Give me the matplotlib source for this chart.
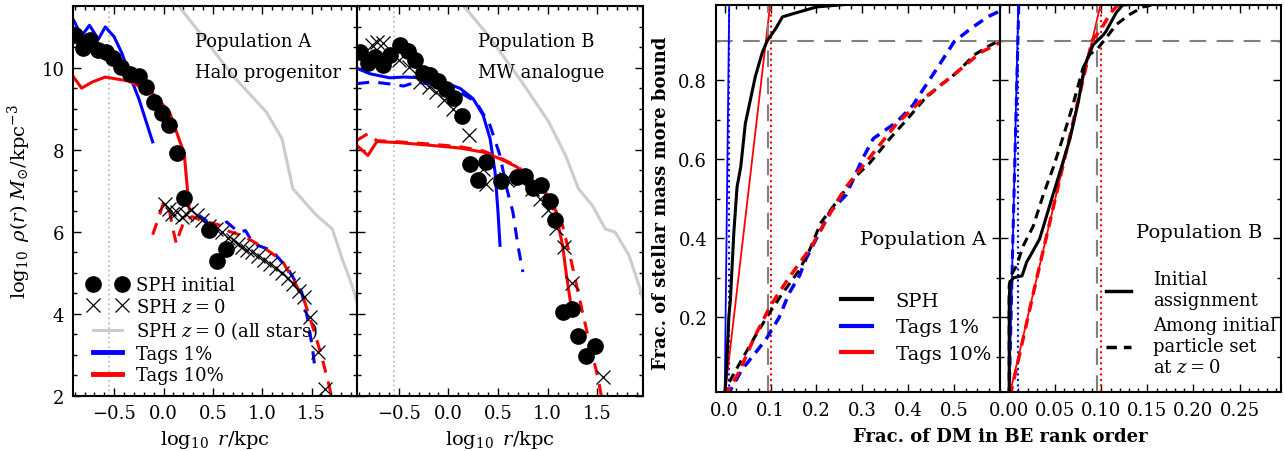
import numpy as np
import matplotlib
matplotlib.use("Agg")
import matplotlib.pyplot as plt
from matplotlib.ticker import MultipleLocator, AutoMinorLocator
from matplotlib.lines import Line2D

plt.rcParams['font.family'] = ['DejaVu Serif']
plt.rcParams['mathtext.fontset'] = 'dejavuserif'
plt.rcParams['font.size'] = 13

# ---- Population A (halo progenitor), density profiles
a_sph_init_x = [-0.90, -0.82, -0.74, -0.66, -0.58, -0.51, -0.43, -0.34, -0.25, -0.18, -0.10, -0.02, 0.06, 0.14, 0.21, 0.46, 0.54, 0.63]
a_sph_init_y = [10.79, 10.48, 10.67, 10.42, 10.38, 10.24, 10.02, 9.85, 9.80, 9.53, 9.16, 8.90, 8.59, 7.93, 6.83, 6.05, 5.30, 5.57]
a_sph_z0_x = [0.01, 0.06, 0.09, 0.14, 0.19, 0.23, 0.28, 0.34, 0.39, 0.46, 0.53, 0.59, 0.65, 0.70, 0.75, 0.80,
              0.85, 0.90, 0.96, 1.02, 1.08, 1.14, 1.20, 1.26, 1.31, 1.37, 1.42, 1.48, 1.56, 1.64]
a_sph_z0_y = [6.68, 6.56, 6.44, 6.48, 6.36, 6.44, 6.52, 6.40, 6.28, 6.15, 6.07, 5.99, 5.85, 5.80, 5.71, 5.63,
              5.56, 5.50, 5.42, 5.32, 5.22, 5.12, 5.00, 4.87, 4.73, 4.55, 4.40, 3.92, 3.07, 2.17]
a_all_x = [0.12, 0.36, 0.70, 1.04, 1.20, 1.31, 1.55, 1.71, 1.81, 1.91, 1.97]
a_all_y = [11.6, 10.87, 9.81, 8.92, 8.27, 7.05, 6.40, 6.07, 5.34, 4.69, 4.22]
a_tag1_x = [-0.91, -0.83, -0.75, -0.66, -0.59, -0.50, -0.42, -0.33, -0.25, -0.11]
a_tag1_y = [11.15, 10.77, 11.03, 10.69, 10.99, 10.75, 10.34, 9.73, 9.24, 8.19]
a_tag10_x = [-0.92, -0.83, -0.72, -0.59, -0.35, -0.11, 0.06, 0.21, 0.26]
a_tag10_y = [9.80, 9.50, 9.65, 9.77, 9.67, 9.37, 8.92, 7.90, 6.56]
a_tag1_z0_x = [0.36, 0.43, 0.51, 0.59, 0.64, 0.76, 0.83, 0.91, 1.10, 1.26, 1.40, 1.46, 1.51, 1.53]
a_tag1_z0_y = [6.40, 6.28, 5.91, 6.15, 6.24, 5.99, 6.03, 5.71, 5.54, 5.10, 4.53, 3.88, 3.15, 2.74]
a_tag10_z0_x = [-0.11, -0.06, 0.0, 0.06, 0.09, 0.13, 0.16, 0.21, 0.29, 0.39, 0.59, 0.64, 0.79, 0.89, 1.03,
                1.20, 1.33, 1.43, 1.53, 1.60, 1.67, 1.70]
a_tag10_z0_y = [5.93, 6.27, 6.71, 6.51, 6.12, 5.71, 5.95, 6.27, 6.37, 6.27, 6.15, 6.03, 5.91, 5.79, 5.59,
                5.30, 4.77, 4.29, 3.55, 2.98, 2.33, 2.0]

# ---- Population B (MW analogue), density profiles
b_sph_init_x = [-0.89, -0.81, -0.74, -0.66, -0.59, -0.49, -0.41, -0.34, -0.26, -0.18, -0.10, -0.02, 0.06, 0.14,
                0.22, 0.30, 0.38, 0.53, 0.69, 0.77, 0.85, 0.93, 1.02, 1.07, 1.15, 1.24, 1.31, 1.39, 1.48]
b_sph_init_y = [10.38, 10.10, 10.26, 10.06, 10.30, 10.54, 10.40, 10.18, 9.88, 9.81, 9.67, 9.49, 9.26, 8.82,
                7.66, 7.25, 7.70, 7.23, 7.33, 7.37, 7.07, 7.13, 6.76, 6.28, 4.04, 4.12, 3.46, 2.97, 3.21]
b_sph_z0_x = [-0.77, -0.72, -0.66, -0.50, -0.40, -0.29, -0.20, -0.12, -0.04, 0.05, 0.21, 0.35, 0.38, 0.58,
              0.72, 0.84, 0.92, 1.00, 1.08, 1.16, 1.24, 1.56]
b_sph_z0_y = [10.54, 10.63, 10.59, 10.18, 10.02, 9.65, 9.53, 9.41, 9.20, 9.00, 8.35, 7.54, 7.17, 7.29,
              7.25, 7.05, 6.80, 6.52, 6.09, 5.63, 4.76, 2.46]
b_all_x = [0.12, 0.40, 0.74, 1.01, 1.18, 1.31, 1.45, 1.58, 1.68, 1.82, 1.92, 1.97]
b_all_y = [11.6, 10.79, 9.65, 8.68, 7.86, 7.05, 6.64, 6.07, 5.99, 5.42, 4.69, 4.3]
b_tag1_x = [-0.92, -0.79, -0.69, -0.59, -0.45, -0.25, -0.05, 0.12, 0.25, 0.35, 0.42, 0.47, 0.50, 0.52]
b_tag1_y = [9.98, 9.85, 9.80, 9.75, 9.77, 9.75, 9.65, 9.49, 9.24, 8.84, 8.27, 7.46, 6.48, 5.67]
b_tag1_z0_x = [-0.92, -0.76, -0.62, -0.45, -0.32, -0.12, 0.08, 0.28, 0.42, 0.52, 0.58, 0.65, 0.70, 0.75]
b_tag1_z0_y = [9.61, 9.65, 9.61, 9.55, 9.65, 9.57, 9.45, 9.16, 8.59, 7.86, 7.13, 6.48, 5.67, 5.02]
b_tag10_x = [-0.92, -0.81, -0.72, -0.49, -0.15, 0.12, 0.35, 0.52, 0.69, 0.85, 0.99, 1.09, 1.10, 1.15, 1.19, 1.24]
b_tag10_y = [8.10, 7.86, 8.20, 8.17, 8.10, 8.04, 7.94, 7.78, 7.58, 7.25, 6.89, 6.48, 6.24, 5.67, 4.93, 4.12]
b_tag10_z0_x = [-0.92, -0.81, -0.72, -0.49, -0.15, 0.12, 0.35, 0.52, 0.69, 0.85, 1.02, 1.15, 1.24, 1.32, 1.42,
                1.51, 1.54]
b_tag10_z0_y = [8.23, 8.39, 8.22, 8.19, 8.13, 8.07, 7.97, 7.80, 7.60, 7.27, 6.72, 6.15, 5.26, 4.37, 3.31,
                2.41, 2.0]

r_soft = -0.55

# ---- cumulative stellar mass vs DM binding-energy rank
pa_sph_x = [0.0, 0.003, 0.006, 0.009, 0.0125, 0.02, 0.027, 0.035, 0.045, 0.056, 0.067, 0.082, 0.093, 0.111,
            0.126, 0.155, 0.20, 0.25, 0.30, 0.60]
pa_sph_y = [0.0, 0.05, 0.12, 0.20, 0.245, 0.415, 0.53, 0.58, 0.69, 0.75, 0.81, 0.87, 0.90, 0.93,
            0.96, 0.97, 0.985, 0.99, 0.995, 1.0]
pa_sph_z0_x = [0.0, 0.005, 0.038, 0.067, 0.097, 0.126, 0.163, 0.185, 0.21, 0.243, 0.28, 0.316, 0.36, 0.397,
               0.434, 0.47, 0.507, 0.544, 0.58, 0.60]
pa_sph_z0_y = [0.0, 0.026, 0.094, 0.153, 0.21, 0.26, 0.32, 0.37, 0.44, 0.49, 0.55, 0.59, 0.652, 0.70,
               0.75, 0.787, 0.82, 0.864, 0.889, 0.90]
pa_t10_z0_x = [0.0, 0.031, 0.065, 0.10, 0.14, 0.19, 0.243, 0.265, 0.32, 0.375, 0.43, 0.485, 0.558, 0.60]
pa_t10_z0_y = [0.0, 0.06, 0.15, 0.23, 0.30, 0.38, 0.49, 0.53, 0.61, 0.69, 0.75, 0.80, 0.87, 0.895]
pa_t1_z0_x = [0.005, 0.038, 0.067, 0.09, 0.119, 0.14, 0.163, 0.177, 0.207, 0.229, 0.265, 0.30, 0.324, 0.375,
              0.41, 0.434, 0.463, 0.50, 0.536, 0.573, 0.60]
pa_t1_z0_y = [0.0, 0.068, 0.11, 0.144, 0.20, 0.26, 0.305, 0.347, 0.415, 0.466, 0.51, 0.60, 0.652, 0.694,
              0.736, 0.779, 0.83, 0.897, 0.93, 0.96, 0.975]
pb_sph_x = [0.0, 0.0, 0.001, 0.005, 0.014, 0.019, 0.024, 0.033, 0.044, 0.055, 0.066, 0.075, 0.082, 0.091,
            0.102, 0.105, 0.116, 0.123, 0.20, 0.30]
pb_sph_y = [0.0, 0.245, 0.29, 0.30, 0.305, 0.34, 0.36, 0.398, 0.483, 0.567, 0.652, 0.745, 0.838, 0.889,
            0.914, 0.923, 0.97, 0.99, 1.0, 1.0]
pb_sph_z0_x = [0.0, 0.0, 0.003, 0.008, 0.015, 0.026, 0.037, 0.048, 0.059, 0.069, 0.080, 0.087, 0.096, 0.105,
               0.116, 0.13, 0.145, 0.155, 0.30]
pb_sph_z0_y = [0.0, 0.28, 0.31, 0.33, 0.38, 0.43, 0.51, 0.58, 0.66, 0.736, 0.83, 0.864, 0.88, 0.906,
               0.94, 0.965, 0.985, 0.99, 1.0]
pb_t10_z0_x = [0.001, 0.03, 0.06, 0.09, 0.10, 0.11, 0.12]
pb_t10_z0_y = [0.0, 0.30, 0.60, 0.90, 0.93, 0.97, 0.995]
pb_t1_z0_x = [0.0, 0.004, 0.0105]
pb_t1_z0_y = [0.0, 0.40, 1.0]
tag1_x = [0.0, 0.01]
tag10_x = [0.0, 0.10]
tag_y = [0.0, 1.0]
f90_a = 0.094
f90_b = 0.0955

W, H = 1285, 452
fig = plt.figure(figsize=(W / 100, H / 100), dpi=100)


def box(x0, x1, y0, y1):
    return [x0 / W, 1 - y1 / H, (x1 - x0) / W, (y1 - y0) / H]


ax1 = fig.add_axes(box(72.7, 357, 7, 397))
ax2 = fig.add_axes(box(357, 643, 7, 397))
ax3 = fig.add_axes(box(715.5, 1000, 6, 393.3))
ax4 = fig.add_axes(box(1000, 1281, 6, 393.3))


def ticks(ax):
    ax.tick_params(which='both', direction='in', top=True, right=True, width=1)
    ax.tick_params(which='major', length=6, labelsize=13, pad=6)
    ax.tick_params(which='minor', length=3)
    for s in ax.spines.values():
        s.set_linewidth(1.5)


blue, red = '#0000ff', '#ff0000'
grey = '#cccccc'

for ax, d in [(ax1, 'A'), (ax2, 'B')]:
    ax.axvline(r_soft, color='0.75', ls=':', lw=1.3)
    if d == 'A':
        ax.plot(a_all_x, a_all_y, color=grey, lw=2.2, label='SPH $z=0$ (all stars)')
        ax.plot(a_tag1_x, a_tag1_y, color=blue, lw=2.2, label='Tags 1%')
        ax.plot(a_tag10_x, a_tag10_y, color=red, lw=2.2, label='Tags 10%')
        ax.plot(a_tag1_z0_x, a_tag1_z0_y, color=blue, lw=2.2, ls='--', dashes=(4, 3))
        ax.plot(a_tag10_z0_x, a_tag10_z0_y, color=red, lw=2.2, ls='--', dashes=(4, 3))
        ax.plot(a_sph_init_x, a_sph_init_y, 'o', color='k', ms=11, label='SPH initial')
        ax.plot(a_sph_z0_x, a_sph_z0_y, 'x', color='k', ms=10, mew=0.9, label='SPH $z=0$')
        ax.text(0.43, 0.91, 'Population A', transform=ax.transAxes, fontsize=13, va='center')
        ax.text(0.43, 0.83, 'Halo progenitor', transform=ax.transAxes, fontsize=13, va='center')
    else:
        ax.plot(b_all_x, b_all_y, color=grey, lw=2.2)
        ax.plot(b_tag1_x, b_tag1_y, color=blue, lw=2.2)
        ax.plot(b_tag1_z0_x, b_tag1_z0_y, color=blue, lw=2.2, ls='--', dashes=(4, 3))
        ax.plot(b_tag10_x, b_tag10_y, color=red, lw=2.2)
        ax.plot(b_tag10_z0_x, b_tag10_z0_y, color=red, lw=2.2, ls='--', dashes=(4, 3))
        ax.plot(b_sph_init_x, b_sph_init_y, 'o', color='k', ms=11)
        ax.plot(b_sph_z0_x, b_sph_z0_y, 'x', color='k', ms=10, mew=0.9)
        ax.text(0.423, 0.91, 'Population B', transform=ax.transAxes, fontsize=13, va='center')
        ax.text(0.423, 0.83, 'MW analogue', transform=ax.transAxes, fontsize=13, va='center')
    ax.set_xlim(-0.92, 1.96)
    ax.set_ylim(2, 11.5)
    ax.set_xticks([-0.5, 0.0, 0.5, 1.0, 1.5])
    ax.set_xticklabels(['\u22120.5', '0.0', '0.5', '1.0', '1.5'])
    ax.xaxis.set_minor_locator(MultipleLocator(0.1))
    ax.yaxis.set_major_locator(MultipleLocator(2))
    ax.yaxis.set_minor_locator(MultipleLocator(0.5))
    ax.set_xlabel(r'$\log_{10}\ r/\mathrm{kpc}$', fontsize=14, labelpad=4)
    ticks(ax)

ax1.set_ylabel(r'$\log_{10}\ \rho(r)\ M_{\odot}/\mathrm{kpc}^{-3}$', fontsize=14, labelpad=6)
ax2.tick_params(labelleft=False)

h, l = ax1.get_legend_handles_labels()
order = [l.index(k) for k in ['SPH initial', 'SPH $z=0$', 'SPH $z=0$ (all stars)', 'Tags 1%', 'Tags 10%']]
hh = [h[i] for i in order]
hh[3] = Line2D([], [], color=blue, lw=3.5)
hh[4] = Line2D([], [], color=red, lw=3.5)
ax1.legend(hh, [l[i] for i in order], loc='lower left', bbox_to_anchor=(-0.005, -0.012), frameon=False,
           numpoints=2, fontsize=13, handlelength=2.2, handletextpad=0.5, labelspacing=0.2)

gd = dict(color='0.5', lw=1.5, ls='--', dashes=(8, 5))
for ax, pop in [(ax3, 'A'), (ax4, 'B')]:
    ax.axhline(0.9, **gd)
    ax.axvline(0.01, color=blue, ls=':', lw=1.5)
    ax.axvline(0.10, color=red, ls=':', lw=1.5)
    ax.plot(tag1_x, tag_y, color=blue, lw=1.3)
    ax.plot(tag10_x, tag_y, color=red, lw=1.3)
    if pop == 'A':
        ax.axvline(f90_a, **gd)
        ax.plot(pa_sph_x, pa_sph_y, color='k', lw=2.2)
        ax.plot(pa_t1_z0_x, pa_t1_z0_y, color=blue, lw=2.5, ls='--', dashes=(3, 2))
        ax.plot(pa_sph_z0_x, pa_sph_z0_y, color='k', lw=2.2, ls='--', dashes=(3, 2))
        ax.plot(pa_t10_z0_x, pa_t10_z0_y, color=red, lw=2.5, ls='--', dashes=(3, 2))
        ax.set_xlim(-0.02, 0.6)
        ax.set_xticks([0.0, 0.1, 0.2, 0.3, 0.4, 0.5])
        ax.xaxis.set_minor_locator(MultipleLocator(0.025))
        ax.text(0.73, 0.395, 'Population A', transform=ax.transAxes, fontsize=14, ha='center', va='center')
        hs = [Line2D([], [], color=c, lw=3) for c in ['k', blue, red]]
        ax.legend(hs, ['SPH', 'Tags 1%', 'Tags 10%'], loc='lower right', bbox_to_anchor=(1.03, 0.03),
                  frameon=False, fontsize=14, handlelength=1.6, handletextpad=1.2, labelspacing=0.45)
        ax.set_yticks([0.2, 0.4, 0.6, 0.8])
    else:
        ax.axvline(f90_b, **gd)
        ax.plot(pb_t1_z0_x, pb_t1_z0_y, color=blue, lw=2.2, ls='--', dashes=(3, 2))
        ax.plot(pb_t10_z0_x, pb_t10_z0_y, color=red, lw=2.5, ls='--', dashes=(3, 2))
        ax.plot(pb_sph_x, pb_sph_y, color='k', lw=2.2)
        ax.plot(pb_sph_z0_x, pb_sph_z0_y, color='k', lw=2.2, ls='--', dashes=(3, 2))
        ax.set_xlim(-0.01, 0.295)
        ax.set_xticks([0.0, 0.05, 0.1, 0.15, 0.2, 0.25])
        ax.set_xticklabels(['0.00', '0.05', '0.10', '0.15', '0.20', '0.25'])
        ax.xaxis.set_minor_locator(AutoMinorLocator(5))
        ax.text(0.71, 0.415, 'Population B', transform=ax.transAxes, fontsize=14, ha='center', va='center')
        hs = [Line2D([], [], color='k', lw=2.5), Line2D([], [], color='k', lw=2.5, ls='--', dashes=(3, 2))]
        ax.legend(hs, ['Initial\nassignment', 'Among initial\nparticle set\nat $z=0$'], loc='lower right',
                  bbox_to_anchor=(1.04, 0.0), frameon=False, fontsize=13, handlelength=1.4,
                  handletextpad=1.2, labelspacing=0.4)
        ax.set_yticks([0.2, 0.4, 0.6, 0.8])
        ax.tick_params(labelleft=False)
    ax.set_ylim(0.01, 0.99)
    ax.yaxis.set_minor_locator(MultipleLocator(0.1))
    ticks(ax)

fig.text(661 / W, 0.55, 'Frac. of stellar mass more bound', rotation=90, ha='center', va='center',
         fontsize=13, fontweight='bold')
fig.text(1000 / W, 1 - 437 / H, 'Frac. of DM in BE rank order', ha='center', va='center',
         fontsize=13, fontweight='bold')

fig.savefig('out.png', dpi=100)
